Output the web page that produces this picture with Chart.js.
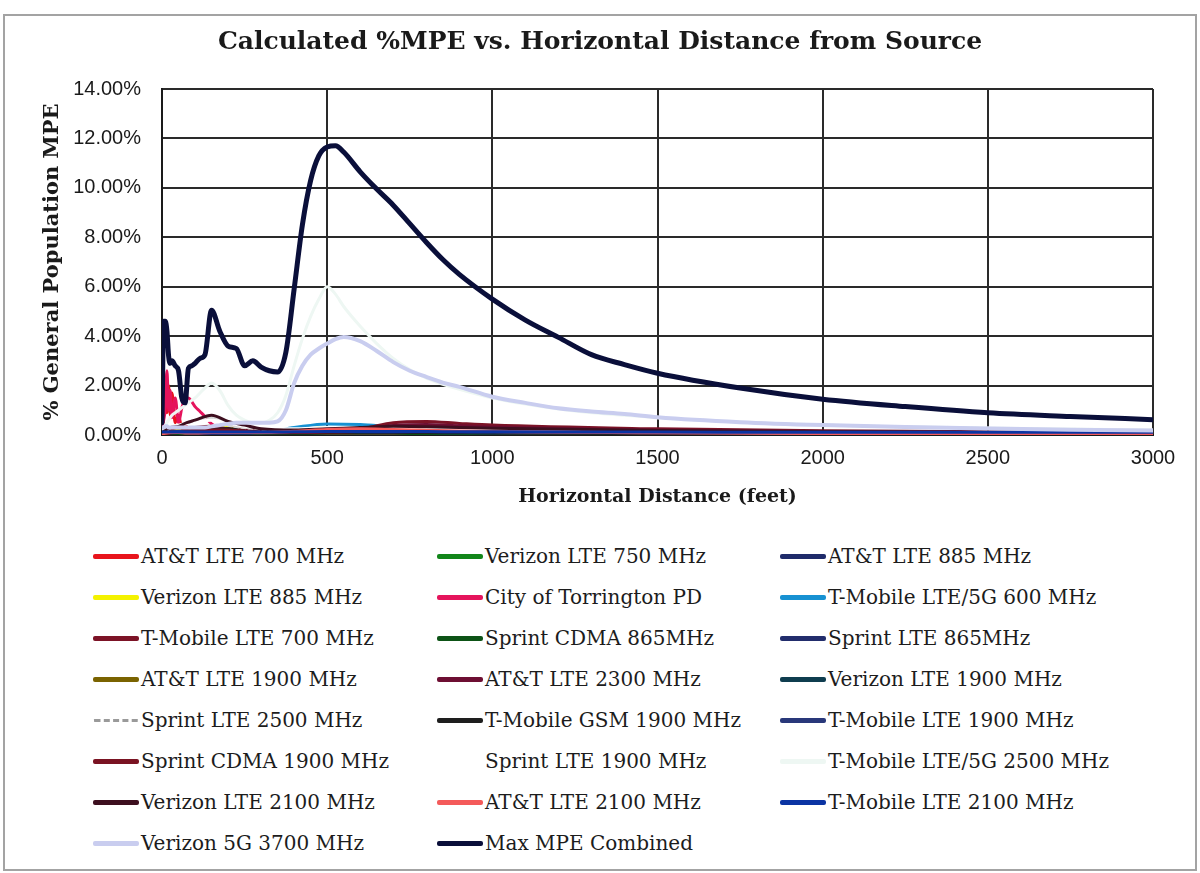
<!DOCTYPE html>
<html>
<head>
<meta charset="utf-8">
<script src="https://cdn.jsdelivr.net/npm/chart.js@4.4.1/dist/chart.umd.min.js"></script>
<style>
    html, body { margin: 0; padding: 0; background: #fff; }
    body { width: 1200px; height: 873px; position: relative; overflow: hidden; font-family: 'DejaVu Serif', serif; }
    #frame { position: absolute; left: 3px; top: 14px; width: 1190px; height: 853px; border: 2px solid #a3a3a3; }
    #mpeChart { position: absolute; left: 0; top: 0; }
    .legend-item { position: absolute; height: 26px; display: flex; align-items: center; font-size: 20px; color: #1c1c1c; white-space: nowrap; }
    .legend-line { width: 46px; height: 0; border-top: 5px solid; border-radius: 2px; margin-right: 2px; }
</style>
</head>
<body>
<div id="frame"></div>
<canvas id="mpeChart" width="1200" height="520"></canvas>
<div id="legend"></div>
<script>
// Distances (feet) for the three main curves
const distances = [0, 5, 10, 15, 20, 25, 30, 40, 50, 60, 70, 80, 90, 100, 115, 130, 150, 175, 200,
    225, 250, 275, 300, 325, 350, 375, 400, 425, 450, 475, 500, 525, 550, 600, 650, 700, 750, 800,
    850, 900, 1000, 1100, 1200, 1300, 1400, 1500, 1750, 2000, 2250, 2500, 2750, 3000];
const maxCombined = [0.5, 4.6, 4.6, 4.2, 3.2, 2.9, 3.0, 2.8, 2.6, 1.5, 1.3, 2.7, 2.8, 2.9, 3.1, 3.25, 5.05, 4.2, 3.6,
    3.5, 2.8, 3.0, 2.75, 2.6, 2.55, 3.35, 5.9, 8.5, 10.3, 11.3, 11.65, 11.7, 11.45, 10.65, 9.95, 9.3, 8.55, 7.8,
    7.1, 6.5, 5.5, 4.65, 3.95, 3.25, 2.85, 2.5, 1.9, 1.45, 1.15, 0.9, 0.75, 0.62];
const verizon5g3700 = [0.3, 0.3, 0.35, 0.35, 0.3, 0.3, 0.3, 0.3, 0.3, 0.3, 0.3, 0.3, 0.3, 0.3, 0.3, 0.3, 0.35, 0.4, 0.45,
    0.5, 0.5, 0.5, 0.5, 0.5, 0.55, 1.0, 2.1, 2.8, 3.25, 3.5, 3.7, 3.88, 3.97, 3.8, 3.4, 2.95, 2.6, 2.35,
    2.12, 1.95, 1.55, 1.3, 1.08, 0.95, 0.85, 0.72, 0.52, 0.4, 0.32, 0.26, 0.21, 0.18];
const tmobile5g2500 = [0.2, 0.3, 0.4, 0.5, 0.6, 0.7, 0.8, 0.9, 1.0, 1.1, 1.2, 1.3, 1.4, 1.5, 1.7, 1.9, 2.1, 1.8, 1.2,
    0.8, 0.6, 0.5, 0.5, 0.6, 0.9, 1.6, 2.8, 3.9, 4.8, 5.5, 6.0, 5.7, 5.2, 4.4, 3.7, 3.1, 2.65, 2.3,
    2.05, 1.85, 1.5, 1.25, 1.05, 0.9, 0.8, 0.7, 0.52, 0.4, 0.33, 0.28, 0.24, 0.2];

// Near-field grid for the spiky low-band series
const nearDistances = [0, 5, 10, 15, 20, 25, 30, 40, 50, 60, 70, 80, 90, 100, 115, 130, 150, 175, 200, 250, 400, 1000, 2000, 3000];
const attLte700 = [0.2, 1.3, 2.3, 0.9, 2.0, 0.8, 1.7, 0.5, 0.8, 0.3, 0.4, 0.25, 0.2, 0.15, 0.13, 0.12, 0.1, 0.09, 0.08, 0.07, 0.06, 0.04, 0.03, 0.02];
const torringtonPd = [0.2, 0.6, 1.1, 2.6, 1.0, 1.8, 0.7, 1.5, 0.5, 1.1, 1.45, 1.5, 1.35, 1.15, 0.95, 0.75, 0.45, 0.28, 0.18, 0.1, 0.05, 0.03, 0.02, 0.01];

// Coarse grid for the remaining small series
const minorDistances = [0, 25, 50, 75, 100, 150, 200, 250, 300, 400, 500, 600, 700, 800, 900, 1000, 1500, 2000, 2500, 3000];
const verizonLte750 = [0.05, 0.08, 0.1, 0.08, 0.06, 0.05, 0.05, 0.06, 0.07, 0.1, 0.12, 0.12, 0.11, 0.1, 0.09, 0.08, 0.06, 0.04, 0.03, 0.03];
const attLte885 = [0.08, 0.1, 0.12, 0.1, 0.09, 0.08, 0.08, 0.09, 0.1, 0.12, 0.14, 0.14, 0.13, 0.12, 0.11, 0.1, 0.08, 0.06, 0.05, 0.04];
const verizonLte885 = [0.1, 0.15, 0.2, 0.2, 0.25, 0.35, 0.3, 0.15, 0.1, 0.15, 0.3, 0.28, 0.22, 0.18, 0.15, 0.13, 0.08, 0.06, 0.05, 0.04];
const tmobile5g600 = [0.05, 0.05, 0.06, 0.06, 0.07, 0.08, 0.08, 0.09, 0.1, 0.3, 0.45, 0.42, 0.33, 0.27, 0.22, 0.19, 0.12, 0.08, 0.06, 0.05];
const tmobileLte700 = [0.1, 0.2, 0.15, 0.25, 0.3, 0.35, 0.25, 0.2, 0.15, 0.15, 0.2, 0.25, 0.5, 0.55, 0.47, 0.4, 0.25, 0.17, 0.13, 0.1];
const sprintCdma865 = [0.03, 0.04, 0.05, 0.04, 0.04, 0.04, 0.04, 0.05, 0.05, 0.06, 0.07, 0.07, 0.07, 0.06, 0.06, 0.05, 0.04, 0.03, 0.02, 0.02];
const sprintLte865 = [0.06, 0.08, 0.1, 0.08, 0.07, 0.06, 0.06, 0.07, 0.08, 0.1, 0.11, 0.11, 0.1, 0.1, 0.09, 0.08, 0.06, 0.05, 0.04, 0.03];
const attLte1900 = [0.05, 0.1, 0.15, 0.12, 0.15, 0.25, 0.2, 0.12, 0.08, 0.1, 0.2, 0.2, 0.16, 0.13, 0.11, 0.1, 0.06, 0.04, 0.03, 0.03];
const attLte2300 = [0.05, 0.1, 0.1, 0.15, 0.2, 0.3, 0.25, 0.18, 0.12, 0.12, 0.15, 0.2, 0.38, 0.42, 0.37, 0.32, 0.2, 0.14, 0.1, 0.08];
const verizonLte1900 = [0.05, 0.1, 0.1, 0.1, 0.12, 0.2, 0.18, 0.12, 0.08, 0.1, 0.18, 0.2, 0.17, 0.15, 0.13, 0.11, 0.07, 0.05, 0.04, 0.03];
const sprintLte2500 = [0.1, 0.3, 0.4, 0.5, 0.6, 0.7, 0.4, 0.3, 0.25, 0.2, 0.3, 0.3, 0.25, 0.22, 0.2, 0.18, 0.12, 0.08, 0.06, 0.05];
const tmobileGsm1900 = [0.05, 0.1, 0.12, 0.1, 0.1, 0.2, 0.25, 0.15, 0.1, 0.08, 0.1, 0.12, 0.12, 0.11, 0.1, 0.09, 0.06, 0.04, 0.03, 0.03];
const tmobileLte1900 = [0.1, 0.12, 0.15, 0.12, 0.12, 0.15, 0.15, 0.12, 0.1, 0.12, 0.15, 0.16, 0.15, 0.14, 0.13, 0.12, 0.09, 0.07, 0.06, 0.05];
const sprintCdma1900 = [0.05, 0.08, 0.1, 0.1, 0.12, 0.2, 0.2, 0.15, 0.1, 0.1, 0.12, 0.15, 0.28, 0.32, 0.28, 0.25, 0.15, 0.1, 0.08, 0.06];
const sprintLte1900 = [0.1, 0.3, 0.4, 0.45, 0.5, 0.6, 0.5, 0.35, 0.3, 0.25, 0.3, 0.3, 0.27, 0.24, 0.21, 0.19, 0.12, 0.08, 0.06, 0.05];
const verizonLte2100 = [0.1, 0.3, 0.35, 0.5, 0.6, 0.8, 0.55, 0.4, 0.25, 0.2, 0.25, 0.3, 0.35, 0.33, 0.3, 0.27, 0.18, 0.13, 0.1, 0.08];
const attLte2100 = [0.05, 0.1, 0.1, 0.08, 0.08, 0.1, 0.1, 0.1, 0.1, 0.15, 0.22, 0.25, 0.22, 0.19, 0.16, 0.14, 0.09, 0.06, 0.05, 0.04];
const tmobileLte2100 = [0.12, 0.12, 0.12, 0.12, 0.12, 0.12, 0.12, 0.12, 0.12, 0.13, 0.14, 0.14, 0.14, 0.14, 0.13, 0.13, 0.12, 0.11, 0.11, 0.11];

// Y axis ticks (percent)
const yTicks = [0, 2, 4, 6, 8, 10, 12, 14];

const pts = (xs, ys) => xs.map((x, i) => ({ x: x, y: ys[i] }));

// legend order (row by row, three columns)
const series = [
    { label: 'AT&T LTE 700 MHz', xs: nearDistances, ys: attLte700, color: '#e8141c' },
    { label: 'Verizon LTE 750 MHz', xs: minorDistances, ys: verizonLte750, color: '#12861a' },
    { label: 'AT&T LTE 885 MHz', xs: minorDistances, ys: attLte885, color: '#1f2b6a' },
    { label: 'Verizon LTE 885 MHz', xs: minorDistances, ys: verizonLte885, color: '#f4f200' },
    { label: 'City of Torrington PD', xs: nearDistances, ys: torringtonPd, color: '#e5145c' },
    { label: 'T-Mobile LTE/5G 600 MHz', xs: minorDistances, ys: tmobile5g600, color: '#1791d2' },
    { label: 'T-Mobile LTE 700 MHz', xs: minorDistances, ys: tmobileLte700, color: '#7c1326' },
    { label: 'Sprint CDMA 865MHz', xs: minorDistances, ys: sprintCdma865, color: '#0d5316' },
    { label: 'Sprint LTE 865MHz', xs: minorDistances, ys: sprintLte865, color: '#222d6c' },
    { label: 'AT&T LTE 1900 MHz', xs: minorDistances, ys: attLte1900, color: '#7a6300' },
    { label: 'AT&T LTE 2300 MHz', xs: minorDistances, ys: attLte2300, color: '#6d0f33' },
    { label: 'Verizon LTE 1900 MHz', xs: minorDistances, ys: verizonLte1900, color: '#0f3d4f' },
    { label: 'Sprint LTE 2500 MHz', xs: minorDistances, ys: sprintLte2500, color: '#d6d6d6', dash: [4, 3] },
    { label: 'T-Mobile GSM 1900 MHz', xs: minorDistances, ys: tmobileGsm1900, color: '#1e1e1e' },
    { label: 'T-Mobile LTE 1900 MHz', xs: minorDistances, ys: tmobileLte1900, color: '#29387a' },
    { label: 'Sprint CDMA 1900 MHz', xs: minorDistances, ys: sprintCdma1900, color: '#7a1322' },
    { label: 'Sprint LTE 1900 MHz', xs: minorDistances, ys: sprintLte1900, color: '#ffffff' },
    { label: 'T-Mobile LTE/5G 2500 MHz', xs: distances, ys: tmobile5g2500, color: '#eef7f3' },
    { label: 'Verizon LTE 2100 MHz', xs: minorDistances, ys: verizonLte2100, color: '#3d0f1f' },
    { label: 'AT&T LTE 2100 MHz', xs: minorDistances, ys: attLte2100, color: '#f45a5a' },
    { label: 'T-Mobile LTE 2100 MHz', xs: minorDistances, ys: tmobileLte2100, color: '#0b34a3' },
    { label: 'Verizon 5G 3700 MHz', xs: distances, ys: verizon5g3700, color: '#c9cdef', width: 4 },
    { label: 'Max MPE Combined', xs: distances, ys: maxCombined, color: '#0a0f3a', width: 5 }
];

const datasets = series.map((s, i) => ({
    label: s.label,
    data: pts(s.xs, s.ys),
    borderColor: s.color,
    backgroundColor: s.color,
    borderWidth: s.width || 3,
    borderDash: s.dash || [],
    pointRadius: 0,
    cubicInterpolationMode: 'monotone',
    borderCapStyle: 'round',
    borderJoinStyle: 'round',
    fill: false,
    order: series.length - i
}));

const serif = "'DejaVu Serif', serif";
const sans = "'Liberation Sans', Arial, sans-serif";

const ctx = document.getElementById('mpeChart').getContext('2d');
const mpeChart = new Chart(ctx, {
    type: 'line',
    data: { datasets: datasets },
    options: {
        responsive: false,
        animation: false,
        layout: { padding: { left: 47, right: 47, top: 0, bottom: 0 } },
        plugins: {
            legend: { display: false },
            tooltip: { enabled: false },
            title: {
                display: true,
                text: 'Calculated %MPE vs. Horizontal Distance from Source',
                color: '#1a1a1a',
                font: { family: serif, size: 25, weight: 'bold' },
                padding: { top: 27, bottom: 32 }
            }
        },
        scales: {
            x: {
                type: 'linear',
                min: 0,
                max: 3000,
                ticks: {
                    stepSize: 500, color: '#1a1a1a', font: { family: sans, size: 20 }, padding: 11, maxRotation: 0,
                    callback: v => String(v)
                },
                grid: { color: '#2a2a2a', lineWidth: 2, drawTicks: false },
                border: { color: '#1a1a1a', width: 2 },
                title: {
                    display: true,
                    text: 'Horizontal Distance (feet)',
                    color: '#1a1a1a',
                    font: { family: serif, size: 19, weight: 'bold' },
                    padding: { top: 0, bottom: 12 }
                },
                afterFit: scale => { scale.height = 85; }
            },
            y: {
                min: 0,
                max: 14,
                afterBuildTicks: scale => { scale.ticks = yTicks.map(v => ({ value: v })); },
                ticks: {
                    color: '#1a1a1a',
                    font: { family: sans, size: 20 },
                    padding: 21,
                    callback: v => v.toFixed(2) + '%'
                },
                grid: { color: '#2a2a2a', lineWidth: 2, drawTicks: false },
                border: { color: '#1a1a1a', width: 2 },
                title: {
                    display: true,
                    text: '% General Population MPE',
                    color: '#1a1a1a',
                    font: { family: serif, size: 21, weight: 'bold' },
                    padding: { top: -7, bottom: 0 }
                },
                afterFit: scale => { scale.width = 115; }
            }
        }
    }
});

// HTML legend in three columns, same order as the datasets
const legendCols = [93, 437, 780];
const legendTop = 556;
const legendStep = 41;
const legendBox = document.getElementById('legend');
mpeChart.data.datasets.forEach((ds, i) => {
    const item = document.createElement('div');
    item.className = 'legend-item';
    item.style.left = legendCols[i % 3] + 'px';
    item.style.top = (legendTop + Math.floor(i / 3) * legendStep - 13) + 'px';
    const line = document.createElement('span');
    line.className = 'legend-line';
    line.style.borderTopColor = ds.borderColor;
    if (ds.borderDash.length) {
        line.style.borderTopStyle = 'dashed';
        line.style.borderTopWidth = '3px';
        line.style.borderTopColor = '#9a9a9a';
    }
    const text = document.createElement('span');
    text.textContent = ds.label;
    item.appendChild(line);
    item.appendChild(text);
    legendBox.appendChild(item);
});
</script>
</body>
</html>
